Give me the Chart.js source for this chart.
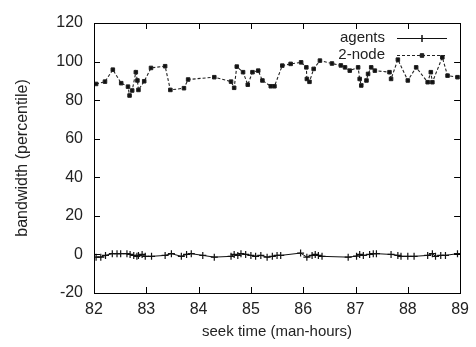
<!DOCTYPE html>
<html>
<head>
<meta charset="utf-8">
<script src="https://cdn.jsdelivr.net/npm/chart.js@4.4.0/dist/chart.umd.min.js"></script>
<style>
html, body { margin: 0; padding: 0; background: #fff; }
</style>
</head>
<body>
<canvas id="chart" width="476" height="347"></canvas>
<script>
// series
const seriesNames = ['agents', '2-node'];

const agentsX = [82.04, 82.13, 82.22, 82.35, 82.44, 82.51, 82.63, 82.69, 82.76, 82.82, 82.85, 82.92, 82.98,
    83.10, 83.36, 83.48, 83.67, 83.77, 83.86, 84.08, 84.30, 84.62, 84.68, 84.75, 84.81, 84.90, 85.00,
    85.09, 85.19, 85.31, 85.41, 85.50, 85.57, 85.95, 86.07, 86.17, 86.23, 86.29, 86.36, 86.86, 87.02,
    87.08, 87.15, 87.27, 87.34, 87.40, 87.68, 87.81, 87.87, 88.00, 88.12, 88.38, 88.47, 88.53, 88.63,
    88.72, 88.95];
const agentsY = [-1.4, -1.4, -0.5, 0.4, 0.4, 0.4, 0.4, 0, -0.5, -1.0, -0.5, 0, -1.0,
    -1.0, -0.5, 0.4, -1.0, 0, 0.4, -0.5, -1.4, -1.0, 0, -0.5, 0.4, 0, -0.5,
    -1.0, -0.5, -1.4, -1.0, -0.5, -0.5, 0.7, -1.4, -0.5, 0, -0.5, -1.0, -1.4, -0.9,
    0, -0.5, 0, 0.4, 0.4, 0, -0.5, -1.0, -1.0, -1.0, -0.5, 0.4, -1.0, -0.5,
    -0.5, 0.4];

const nodeX = [82.04, 82.21, 82.36, 82.52, 82.65, 82.68, 82.73, 82.80, 82.83, 82.85, 82.96, 83.09, 83.36,
    83.46, 83.72, 83.80, 84.30, 84.62, 84.68, 84.73, 84.85, 84.94, 85.03, 85.14, 85.22, 85.38, 85.45,
    85.60, 85.76, 85.96, 86.06, 86.07, 86.12, 86.20, 86.32, 86.55, 86.72, 86.80, 86.89, 87.05, 87.08,
    87.11, 87.21, 87.24, 87.30, 87.37, 87.65, 87.68, 87.81, 88.00, 88.16, 88.38, 88.44, 88.47, 88.66,
    88.76, 88.95];
const nodeY = [88.4, 89.6, 95.8, 88.8, 87.0, 82.4, 85.0, 94.5, 90.2, 85.3, 89.8, 96.7, 97.6,
    85.3, 86.2, 90.7, 91.9, 89.6, 86.4, 97.4, 94.5, 88.0, 94.5, 95.3, 90.2, 87.2, 87.2,
    97.9, 98.8, 99.6, 97.0, 91.0, 89.5, 96.2, 100.5, 99.0, 98.0, 97.0, 95.3, 97.0, 91.0,
    87.6, 90.2, 93.6, 97.0, 95.3, 94.5, 91.0, 101.0, 90.2, 97.0, 89.3, 94.5, 89.3, 102.2,
    92.7, 91.9];

const xMin = 82, xMax = 89, xStep = 1;
const yMin = -20, yMax = 120, yStep = 20;

const fontFamily = "'Liberation Sans', Arial, sans-serif";
const textColor = '#222';

function toPoints(xs, ys) {
    return xs.map((x, i) => ({ x: x, y: ys[i] }));
}

// frame with inward ticks on all four sides + key in the top right corner
const framePlugin = {
    id: 'frame',
    afterDraw(chart) {
        const ctx = chart.ctx;
        const a = chart.chartArea;
        const xs = chart.scales.x;
        const ys = chart.scales.y;
        const len = 6;
        ctx.save();
        ctx.strokeStyle = '#000';
        ctx.lineWidth = 1;
        ctx.strokeRect(Math.round(a.left) + 0.5, Math.round(a.top) + 0.5,
            Math.round(a.right - a.left), Math.round(a.bottom - a.top));
        ctx.beginPath();
        xs.ticks.forEach(t => {
            const px = Math.round(xs.getPixelForValue(t.value)) + 0.5;
            ctx.moveTo(px, a.bottom); ctx.lineTo(px, a.bottom - len);
            ctx.moveTo(px, a.top); ctx.lineTo(px, a.top + len);
        });
        ys.ticks.forEach(t => {
            const py = Math.round(ys.getPixelForValue(t.value)) + 0.5;
            ctx.moveTo(a.left, py); ctx.lineTo(a.left + len, py);
            ctx.moveTo(a.right, py); ctx.lineTo(a.right - len, py);
        });
        ctx.stroke();

        // key
        ctx.font = '15px ' + fontFamily;
        ctx.fillStyle = textColor;
        ctx.textAlign = 'right';
        ctx.textBaseline = 'middle';
        const rows = [38, 55];
        chart.data.datasets.forEach((ds, i) => {
            const y = rows[i] + 0.5;
            ctx.fillText(seriesNames[i], 385, rows[i]);
            ctx.strokeStyle = ds.borderColor;
            ctx.lineWidth = 1;
            ctx.setLineDash(ds.borderDash || []);
            ctx.beginPath();
            ctx.moveTo(397, y); ctx.lineTo(447, y);
            ctx.stroke();
            ctx.setLineDash([]);
            Chart.helpers.drawPoint(ctx, {
                pointStyle: ds.pointStyle, radius: ds.pointRadius, borderWidth: 1
            }, 422, y);
            if (ds.pointStyle === 'rect') ctx.fill(); else ctx.stroke();
        });
        ctx.restore();
    }
};

const ctx = document.getElementById('chart').getContext('2d');
const chart = new Chart(ctx, {
    type: 'line',
    data: {
        datasets: [
            {
                label: seriesNames[0],
                data: toPoints(agentsX, agentsY),
                borderColor: '#111',
                backgroundColor: '#111',
                borderWidth: 1,
                pointStyle: 'cross',
                pointRadius: 3.5,
                pointBorderWidth: 1.2,
                tension: 0
            },
            {
                label: seriesNames[1],
                data: toPoints(nodeX, nodeY),
                borderColor: '#222',
                backgroundColor: '#111',
                borderWidth: 1.1,
                borderDash: [3, 2],
                pointStyle: 'rect',
                pointRadius: 2.5,
                pointBorderWidth: 1,
                tension: 0
            }
        ]
    },
    options: {
        responsive: false,
        animation: false,
        layout: { padding: { top: 23, right: 11, left: 0, bottom: 0 } },
        plugins: {
            legend: { display: false },
            tooltip: { enabled: false }
        },
        scales: {
            x: {
                type: 'linear',
                min: xMin,
                max: xMax,
                grid: { display: false, drawTicks: false },
                border: { display: false },
                ticks: {
                    stepSize: xStep,
                    padding: 7,
                    color: textColor,
                    font: { family: fontFamily, size: 16 }
                },
                title: {
                    display: true,
                    text: 'seek time (man-hours)',
                    color: textColor,
                    font: { family: fontFamily, size: 15 },
                    padding: { top: 0, bottom: 6 }
                },
                afterFit(scale) { scale.height = 54; }
            },
            y: {
                min: yMin,
                max: yMax,
                grid: { display: false, drawTicks: false },
                border: { display: false },
                ticks: {
                    stepSize: yStep,
                    padding: 11,
                    color: textColor,
                    font: { family: fontFamily, size: 16 }
                },
                title: {
                    display: true,
                    text: 'bandwidth (percentile)',
                    color: textColor,
                    font: { family: fontFamily, size: 16 },
                    padding: { top: 13, bottom: 0 }
                },
                afterFit(scale) { scale.width = 94; }
            }
        }
    },
    plugins: [framePlugin]
});
</script>
</body>
</html>
